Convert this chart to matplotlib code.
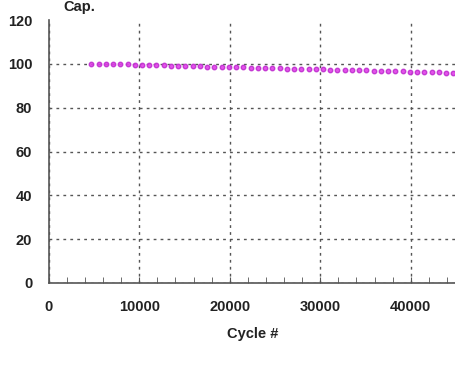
import matplotlib
matplotlib.use("Agg")
import matplotlib.pyplot as plt
from matplotlib.ticker import MultipleLocator

plt.rcParams['font.family'] = ['Liberation Sans', 'DejaVu Sans']

# capacity retention
cycles = [4700, 5500, 6300, 7100, 7900, 8700, 9500, 10300, 11100, 11900,
          12700, 13500, 14300, 15100, 15900, 16700, 17500, 18300, 19100, 19900,
          20700, 21500, 22300, 23100, 23900, 24700, 25500, 26300, 27100, 27900,
          28700, 29500, 30300, 31100, 31900, 32700, 33500, 34300, 35100, 35900,
          36700, 37500, 38300, 39100, 39900, 40700, 41500, 42300, 43100, 43900,
          44700]
cap = [100.0, 100.0, 99.9, 99.9, 99.8, 99.8, 99.7, 99.6, 99.5, 99.4,
       99.3, 99.2, 99.1, 99.0, 98.9, 98.9, 98.8, 98.7, 98.6, 98.5,
       98.5, 98.4, 98.3, 98.2, 98.1, 98.1, 98.0, 97.9, 97.8, 97.7,
       97.7, 97.6, 97.5, 97.4, 97.3, 97.2, 97.2, 97.1, 97.0, 96.9,
       96.8, 96.7, 96.7, 96.6, 96.5, 96.4, 96.3, 96.2, 96.1, 96.0,
       95.9]

fig = plt.figure(figsize=(4.56, 3.66), dpi=100)
ax = fig.add_axes([0.107, 0.227, 0.893, 0.718])

ax.plot(cycles, cap, linestyle="none", marker="o", markersize=3.2,
        color="#e040e8", markeredgecolor="#c030d0", alpha=0.9, zorder=3)

ax.set_xlim(0, 45000)
ax.set_ylim(0, 120)
ax.xaxis.set_major_locator(MultipleLocator(10000))
ax.xaxis.set_minor_locator(MultipleLocator(2000))
ax.yaxis.set_major_locator(MultipleLocator(20))

ax.grid(True, which="major", linestyle=(0, (2, 3)), color="#555555", linewidth=1.0)

for s in ["top", "right"]:
    ax.spines[s].set_visible(False)
for s in ["left", "bottom"]:
    ax.spines[s].set_color("#555555")
    ax.spines[s].set_linewidth(1.2)

ax.tick_params(axis="x", which="both", direction="in", length=4, color="#555555")
ax.tick_params(axis="y", length=0)
ax.tick_params(axis="both", labelsize=10.5, pad=12)
for lab in ax.get_xticklabels() + ax.get_yticklabels():
    lab.set_fontweight("bold")
    lab.set_color("#222222")

ax.set_xlabel("Cycle #", fontsize=10.5, fontweight="bold", color="#222222", labelpad=10)
fig.text(0.138, 0.999, "Cap.", fontsize=10.5, fontweight="bold", color="#222222",
         va="top")

# no grid line along the top edge
fig.canvas.draw()
for tick in ax.yaxis.get_major_ticks():
    if tick.get_loc() >= 120:
        tick.gridline.set_visible(False)

fig.savefig("out.png", dpi=100)
